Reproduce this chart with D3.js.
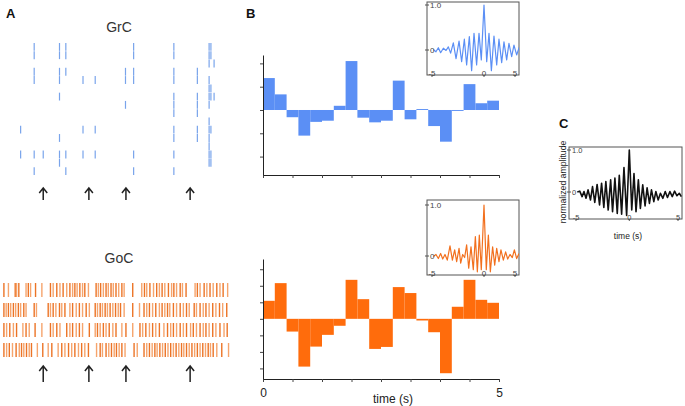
<!DOCTYPE html>
<html>
<head>
<meta charset="utf-8">
<script src="https://cdn.jsdelivr.net/npm/d3@7"></script>
<style>
  body { margin: 0; background: #fff; }
  svg { display: block; font-family: "Liberation Sans", Arial, sans-serif; }
</style>
</head>
<body>
<svg id="fig" width="685" height="406"></svg>
<script>
// ---- data ----
// GrC raster: spike time (s) and the trials (rows) in which it appears
const grcSpikes = [
  { t: 0.39, trials: [10, 13] },
  { t: 0.69, trials: [0, 1, 3, 4, 13, 15] },
  { t: 0.89, trials: [13] },
  { t: 1.25, trials: [0, 1, 3, 4, 6, 11, 13, 14] },
  { t: 1.39, trials: [0, 1, 3, 13, 15] },
  { t: 1.77, trials: [4, 10, 13] },
  { t: 2.04, trials: [4, 10, 13] },
  { t: 2.71, trials: [3, 4, 7] },
  { t: 2.89, trials: [0, 1, 3, 4, 13, 15] },
  { t: 3.78, trials: [0, 1, 3, 4, 6, 7, 8, 10, 11, 13, 15] },
  { t: 4.30, trials: [3, 4, 6, 7, 8, 10, 11] },
  { t: 4.56, trials: [0, 1, 2, 4, 5, 6, 7, 9, 10, 11, 12, 13, 14] },
  { t: 4.60, trials: [0, 1, 5, 6, 10, 13, 14] },
  { t: 4.67, trials: [2, 6] },
];

// GoC raster: spike times (s) for each of the 4 rows
const gocRow1 = [0.02, 0.12, 0.27, 0.30, 0.35, 0.51, 0.56, 0.61, 0.72, 0.86, 1.05, 1.11, 1.19, 1.26, 1.33, 1.41, 1.48, 1.54, 1.59, 1.64, 1.70, 1.76, 1.81, 1.89, 2.06, 2.11, 2.16, 2.22, 2.28, 2.33, 2.39, 2.44, 2.50, 2.56, 2.63, 2.68, 2.87, 3.07, 3.13, 3.18, 3.25, 3.33, 3.40, 3.46, 3.52, 3.58, 3.66, 3.73, 3.78, 3.84, 3.92, 3.97, 4.05, 4.25, 4.30, 4.36, 4.45, 4.51, 4.58, 4.65, 4.73, 4.80, 4.87, 4.97];
const gocRow2 = [0.02, 0.07, 0.12, 0.17, 0.23, 0.28, 0.34, 0.39, 0.46, 0.51, 0.69, 0.74, 1.00, 1.05, 1.11, 1.17, 1.25, 1.30, 1.37, 1.48, 1.54, 1.62, 1.69, 1.76, 1.84, 1.91, 2.04, 2.09, 2.15, 2.20, 2.26, 2.31, 2.37, 2.43, 2.49, 2.55, 2.60, 2.68, 2.87, 3.02, 3.12, 3.18, 3.24, 3.31, 3.38, 3.46, 3.52, 3.58, 3.64, 3.69, 3.77, 3.84, 3.92, 3.99, 4.06, 4.12, 4.23, 4.28, 4.36, 4.43, 4.49, 4.56, 4.64, 4.71, 4.79, 4.86, 4.95];
const gocRow3 = [0.02, 0.08, 0.15, 0.23, 0.30, 0.44, 0.51, 0.58, 0.71, 0.86, 1.05, 1.11, 1.19, 1.26, 1.41, 1.48, 1.54, 1.62, 1.69, 1.76, 1.91, 2.04, 2.09, 2.15, 2.22, 2.28, 2.35, 2.43, 2.50, 2.63, 2.72, 2.87, 3.03, 3.09, 3.16, 3.24, 3.31, 3.38, 3.46, 3.56, 3.64, 3.71, 3.77, 3.84, 3.92, 3.99, 4.06, 4.15, 4.21, 4.28, 4.36, 4.43, 4.49, 4.56, 4.64, 4.71, 4.80, 4.89, 4.96];
const gocRow4 = [0.02, 0.08, 0.14, 0.21, 0.29, 0.36, 0.41, 0.46, 0.52, 0.58, 0.63, 0.76, 0.88, 1.00, 1.08, 1.22, 1.30, 1.37, 1.45, 1.52, 1.59, 1.67, 1.74, 1.81, 1.89, 2.07, 2.15, 2.20, 2.28, 2.34, 2.40, 2.46, 2.51, 2.57, 2.63, 2.70, 2.90, 2.97, 3.12, 3.18, 3.24, 3.30, 3.36, 3.41, 3.47, 3.53, 3.59, 3.65, 3.71, 3.77, 3.83, 3.89, 3.95, 4.00, 4.06, 4.12, 4.18, 4.24, 4.30, 4.36, 4.42, 4.48, 4.54, 4.59, 4.65, 4.73, 4.84, 4.99];
const gocRows = [gocRow1, gocRow2, gocRow3, gocRow4];

// stimulus arrows (s)
const arrowTimes = [0.89, 1.90, 2.72, 4.14];

// panel B histograms: 20 bins of 0.25 s, baseline-subtracted (tick units)
const grcHist = [1.37, 0.67, -0.31, -1.10, -0.51, -0.46, 0.18, 2.10, -0.33, -0.53, -0.46, 1.26, -0.40, 0.04, -0.69, -1.36, -0.04, 1.11, 0.29, 0.40];
const gocHist = [1.09, 2.16, -0.77, -2.89, -1.68, -0.97, -0.42, 2.36, 1.19, -1.82, -1.70, 1.92, 1.56, -0.10, -0.81, -3.29, 0.73, 2.36, 1.15, 0.97];
const histTicks = [0, 0.625, 1.25, 1.875, 2.5, 3.125, 3.75, 4.375, 5];
const grcYTicks = [-2, -1, 0, 1, 2];
const gocYTicks = [-3, -2, -1, 0, 1, 2, 3];

// autocorrelograms [lag (s), normalized amplitude]
const grcAcf = [[-4.87, 0.01], [-4.62, -0.04], [-4.39, 0.05], [-4.17, -0.06], [-3.91, 0.04], [-3.65, -0.01], [-3.43, 0.07], [-3.21, -0.07], [-2.95, 0.16], [-2.69, -0.19], [-2.40, 0.20], [-2.15, -0.26], [-1.89, 0.24], [-1.67, -0.33], [-1.41, 0.30], [-1.19, -0.46], [-0.96, 0.37], [-0.71, -0.33], [-0.48, 0.37], [-0.26, -0.22], [0, 1.0], [0.26, -0.26], [0.48, 0.37], [0.71, -0.46], [0.96, 0.31], [1.22, -0.33], [1.44, 0.24], [1.70, -0.28], [1.92, 0.18], [2.18, -0.22], [2.40, 0.15], [2.66, -0.15], [2.88, 0.11], [3.14, -0.11], [3.40, 0.07]];
const gocAcf = [[-4.87, -0.01], [-4.62, 0.03], [-4.39, -0.05], [-4.17, 0.05], [-3.97, -0.06], [-3.75, 0.03], [-3.53, -0.08], [-3.27, 0.20], [-3.04, -0.08], [-2.82, 0.12], [-2.63, -0.11], [-2.40, 0.15], [-2.24, -0.14], [-2.05, 0.03], [-1.86, -0.03], [-1.67, 0.22], [-1.47, -0.24], [-1.25, 0.18], [-1.03, -0.27], [-0.83, 0.38], [-0.64, -0.31], [-0.45, 0.41], [-0.26, -0.27], [0, 1.0], [0.22, -0.27], [0.42, 0.41], [0.61, -0.31], [0.83, 0.18], [1.03, -0.18], [1.22, 0.15], [1.44, -0.11], [1.63, 0.12], [1.86, -0.08], [2.08, 0.08], [2.28, -0.06], [2.50, 0.03], [2.72, -0.03], [2.92, 0.12], [3.14, -0.05], [3.37, 0.05]];
const crossCorr = [[-4.88, 0.0], [-4.65, 0.02], [-4.43, -0.11], [-4.25, 0.01], [-4.06, -0.15], [-3.87, 0.05], [-3.64, -0.19], [-3.45, 0.13], [-3.24, -0.25], [-3.02, 0.18], [-2.79, -0.31], [-2.60, 0.21], [-2.39, -0.37], [-2.20, 0.25], [-1.98, -0.43], [-1.75, 0.29], [-1.57, -0.47], [-1.35, 0.33], [-1.13, -0.51], [-0.94, 0.40], [-0.72, -0.53], [-0.50, 0.58], [-0.25, -0.56], [0, 1.0], [0.23, -0.43], [0.44, 0.44], [0.63, -0.47], [0.85, 0.29], [1.04, -0.39], [1.26, 0.17], [1.48, -0.33], [1.67, 0.10], [1.89, -0.27], [2.08, 0.05], [2.30, -0.23], [2.49, 0.01], [2.71, -0.19], [2.92, -0.03], [3.15, -0.15], [3.37, 0.01], [3.58, -0.13], [3.81, 0.01], [4.03, -0.11], [4.25, 0.02], [4.47, -0.09], [4.69, -0.03], [4.88, -0.11]];

// ---- drawing ----
const blue = "#5b8ff5";
const orange = "#ff6c0c";
const ink = "#222";

const svg = d3.select("#fig");

// panel letters
svg.selectAll("text.panel")
  .data([["A", 6, 18], ["B", 246, 18], ["C", 559, 128]])
  .join("text")
  .attr("class", "panel")
  .attr("x", d => d[1])
  .attr("y", d => d[2])
  .attr("font-size", 13)
  .attr("font-weight", "bold")
  .attr("fill", "#111")
  .text(d => d[0]);

// ---- panel A: rasters ----
const rasterX = d3.scaleLinear().domain([0, 5]).range([3, 229]);

svg.append("text")
  .attr("x", 119).attr("y", 32)
  .attr("text-anchor", "middle")
  .attr("font-size", 14)
  .attr("fill", "#333")
  .text("GrC");

svg.append("text")
  .attr("x", 119).attr("y", 263)
  .attr("text-anchor", "middle")
  .attr("font-size", 14)
  .attr("fill", "#333")
  .text("GoC");

const grcY = d3.scaleBand().domain(d3.range(16)).range([43, 175]).paddingInner(0.05);
const grcFlat = grcSpikes.flatMap(s => s.trials.map(k => ({ t: s.t, k })));

svg.append("g")
  .selectAll("line")
  .data(grcFlat)
  .join("line")
  .attr("x1", d => rasterX(d.t))
  .attr("x2", d => rasterX(d.t))
  .attr("y1", d => grcY(d.k))
  .attr("y2", d => grcY(d.k) + grcY.bandwidth())
  .attr("stroke", "#79a4eb")
  .attr("stroke-width", 1.2);

const gocY = d3.scaleBand().domain(d3.range(4)).range([281, 359]).paddingInner(0.3).paddingOuter(0.1);
const gocFlat = gocRows.flatMap((row, k) => row.map((t, i) => ({ t, k, i })));

svg.append("g")
  .selectAll("line")
  .data(gocFlat)
  .join("line")
  .attr("x1", d => rasterX(d.t))
  .attr("x2", d => rasterX(d.t))
  .attr("y1", d => gocY(d.k))
  .attr("y2", d => gocY(d.k) + gocY.bandwidth())
  .attr("stroke", d => (d.i % 2 ? "#f6a46c" : "#ec7426"))
  .attr("stroke-width", 1.4);

function arrows(yTip, yEnd) {
  svg.append("g")
    .selectAll("path")
    .data(arrowTimes)
    .join("path")
    .attr("d", t => {
      const x = rasterX(t);
      return `M${x},${yEnd}V${yTip}M${x - 4},${yTip + 5}L${x},${yTip}L${x + 4},${yTip + 5}`;
    })
    .attr("fill", "none")
    .attr("stroke", ink)
    .attr("stroke-width", 1.5);
}
arrows(188, 200);
arrows(366, 382);

// ---- panel B: histograms ----
const histX = d3.scaleLinear().domain([0, 5]).range([263, 499]);
const bins = d3.scaleBand().domain(d3.range(20)).range(histX.range());

function histogram(values, yScale, yTicks, color, labelled) {
  const g = svg.append("g");
  g.selectAll("rect")
    .data(values)
    .join("rect")
    .attr("x", (v, i) => bins(i))
    .attr("width", bins.bandwidth())
    .attr("y", v => Math.min(yScale(v), yScale(0)))
    .attr("height", v => Math.abs(yScale(v) - yScale(0)))
    .attr("fill", color);

  const xAxis = g.append("g")
    .attr("transform", `translate(0,${yScale.range()[0]})`)
    .call(d3.axisBottom(histX)
      .tickValues(histTicks)
      .tickSize(3)
      .tickSizeOuter(0)
      .tickPadding(6)
      .tickFormat(d => (labelled && (d === 0 || d === 5) ? d : "")));
  xAxis.selectAll("text").attr("font-size", 12).attr("fill", "#222").attr("font-family", null);

  g.append("g")
    .attr("transform", `translate(${histX(0)},0)`)
    .call(d3.axisLeft(yScale).tickValues(yTicks).tickSize(3).tickSizeOuter(0).tickFormat(""));

  g.selectAll(".domain").attr("stroke", ink);
  g.selectAll(".tick line").attr("stroke", "#444");
}

const grcHistY = d3.scaleLinear().domain([-2.79, 2.36]).range([175, 55]);
const gocHistY = d3.scaleLinear().domain([-3.64, 3.62]).range([379, 259]);
histogram(grcHist, grcHistY, grcYTicks, blue, false);
histogram(gocHist, gocHistY, gocYTicks, orange, true);

svg.append("text")
  .attr("x", 393).attr("y", 403)
  .attr("text-anchor", "middle")
  .attr("font-size", 12)
  .attr("fill", "#222")
  .text("time (s)");

// ---- correlogram insets ----
let clipId = 0;
function inset(data, box, xScale, yScale, color, fontSize, lineWidth) {
  const [x0, y0, x1, y1] = box;
  const g = svg.append("g");
  const id = "clip" + clipId++;
  g.append("clipPath").attr("id", id)
    .append("rect").attr("x", x0).attr("y", y0).attr("width", x1 - x0).attr("height", y1 - y0);

  g.append("rect")
    .attr("x", x0).attr("y", y0)
    .attr("width", x1 - x0).attr("height", y1 - y0)
    .attr("fill", "#fff")
    .attr("stroke", "#555")
    .attr("stroke-width", 1);

  g.append("path")
    .datum(data)
    .attr("clip-path", `url(#${id})`)
    .attr("fill", "none")
    .attr("stroke", color)
    .attr("stroke-width", lineWidth)
    .attr("stroke-linejoin", "round")
    .attr("d", d3.line().x(d => xScale(d[0])).y(d => yScale(d[1])));

  // left ticks and labels, drawn inside the box
  const yt = g.selectAll("g.yt").data([0, 1]).join("g").attr("class", "yt")
    .attr("transform", d => `translate(${x0},${yScale(d)})`);
  yt.append("line").attr("x1", -2).attr("x2", 2).attr("stroke", "#555");
  yt.append("text")
    .attr("x", 3).attr("dy", "0.35em")
    .attr("font-size", fontSize)
    .attr("fill", "#444")
    .text(d => (d === 1 ? "1.0" : "0"));

  // bottom ticks and labels, sitting on the bottom edge
  const xt = g.selectAll("g.xt").data([-5, 0, 5]).join("g").attr("class", "xt")
    .attr("transform", d => `translate(${Math.min(xScale(d), x1 - 4)},${y1})`);
  xt.append("line").attr("y1", 0).attr("y2", 2).attr("stroke", "#555");
  xt.append("text")
    .attr("y", -2).attr("dy", "0.35em")
    .attr("text-anchor", "middle")
    .attr("font-size", fontSize)
    .attr("fill", "#444")
    .text(d => d);
}

const insetX = d3.scaleLinear().domain([-5, 5]).range([432, 536]);
inset(grcAcf, [427, 2, 519, 75], insetX, d3.scaleLinear().domain([0, 1]).range([50, 5]), blue, 8, 1.2);
inset(gocAcf, [427, 200, 519, 275], insetX, d3.scaleLinear().domain([0, 1]).range([256, 205]), "#f2701e", 8, 1.2);

const cX = d3.scaleLinear().domain([-5, 5]).range([576, 682.6]);
inset(crossCorr, [569, 147, 682, 219], cX, d3.scaleLinear().domain([0, 1]).range([192, 150]), "#111", 7.5, 1.6);

svg.append("text")
  .attr("transform", "translate(563,182) rotate(-90)")
  .attr("text-anchor", "middle")
  .attr("dy", "0.35em")
  .attr("font-size", 8.7)
  .attr("fill", "#222")
  .text("normalized amplitude");

svg.append("text")
  .attr("x", 628).attr("y", 239)
  .attr("text-anchor", "middle")
  .attr("font-size", 8.5)
  .attr("fill", "#222")
  .text("time (s)");
</script>
</body>
</html>
